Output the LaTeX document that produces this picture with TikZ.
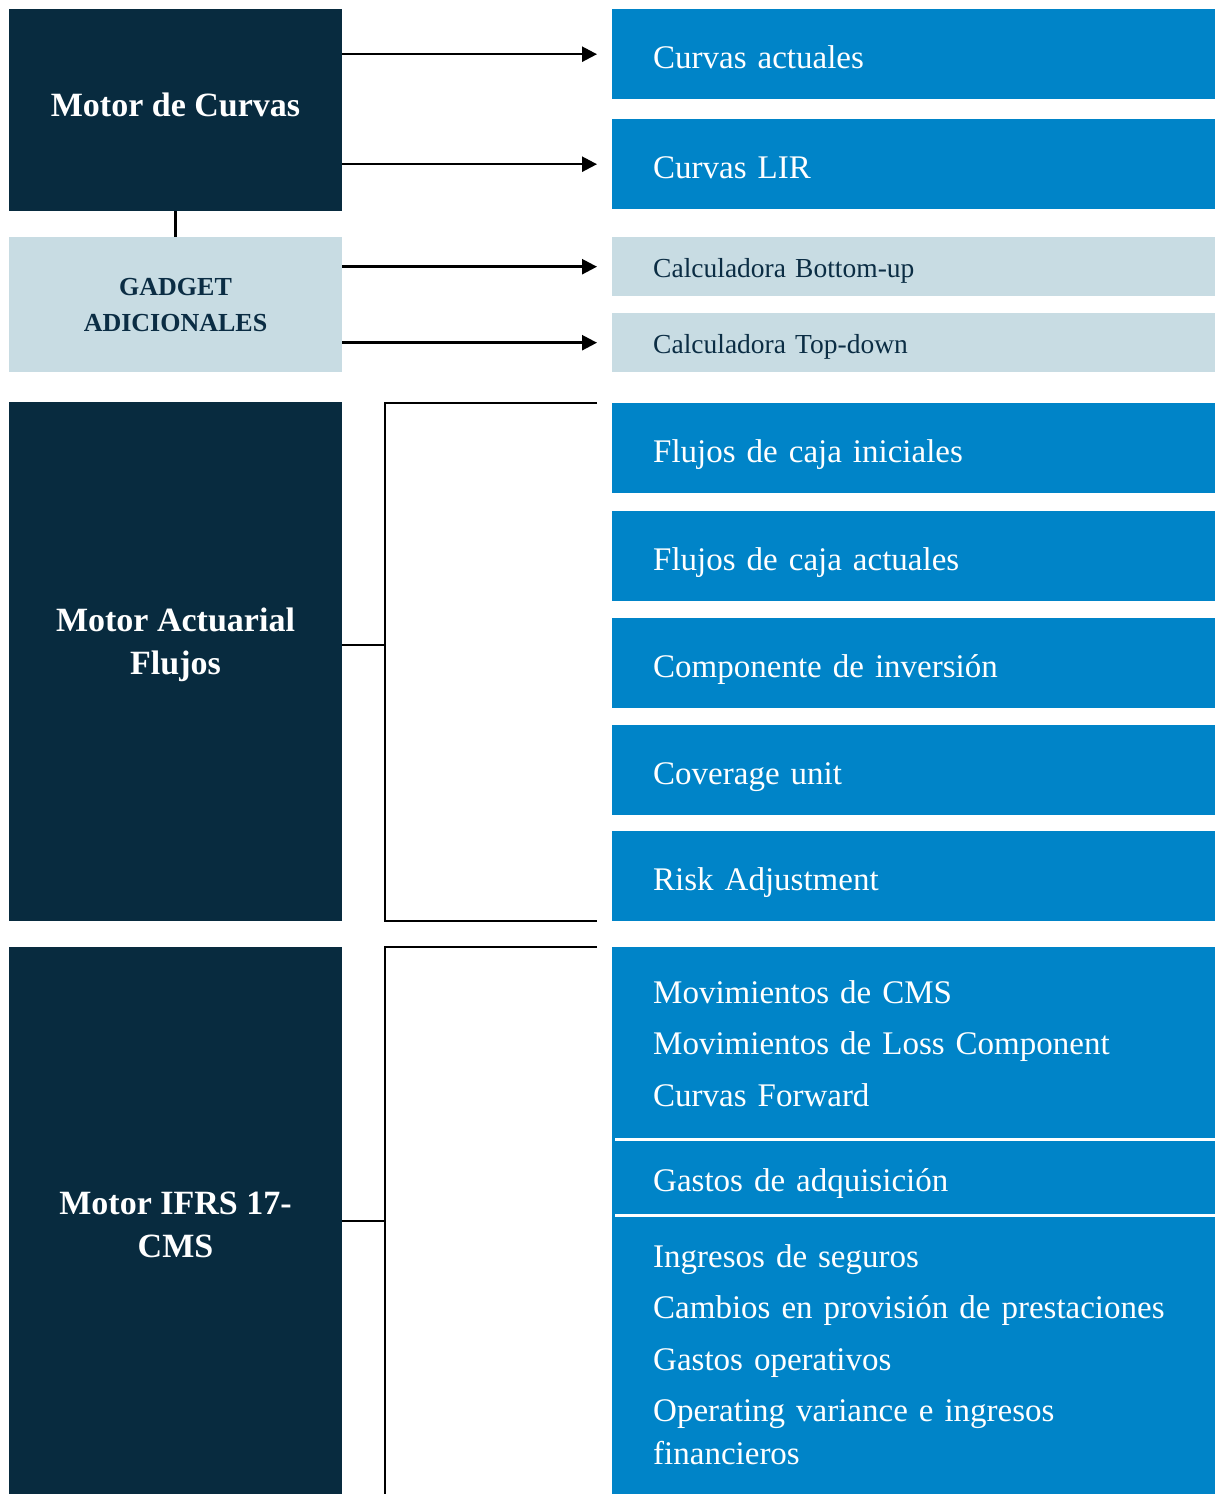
\documentclass[tikz,border=0pt]{standalone}
\usepackage{fontspec}
\setmainfont{Liberation Serif}
\usetikzlibrary{arrows.meta}
\definecolor{navy}{HTML}{082B3F}
\definecolor{azul}{HTML}{0084C8}
\definecolor{gris}{HTML}{C8DCE3}
\definecolor{tinta}{HTML}{0B2D44}
\tikzset{
motor/.style={fill=navy, anchor=north west, minimum width=333pt, inner sep=0pt},
gadget/.style={fill=gris, anchor=north west, minimum width=333pt, inner sep=0pt},
motortext/.style={text=white, font=\bfseries\fontsize{34}{43}\selectfont, align=center, inner sep=0pt},
gadtext/.style={text=tinta, font=\bfseries\fontsize{26}{36}\selectfont, align=center, inner sep=0pt},
salida/.style={fill=azul, anchor=north west, minimum height=90pt, text width=521pt, inner xsep=41pt, inner ysep=0pt, align=left, text=white, font=\fontsize{33}{51.5}\selectfont},
linea/.style={salida, text height=35pt, text depth=7pt},
calc/.style={fill=gris, anchor=north west, minimum height=59pt, text width=521pt, inner xsep=41pt, inner ysep=0pt, align=left, text=tinta, font=\fontsize{27.5}{33}\selectfont, text height=28pt, text depth=7pt},
flecha/.style={line width=2.5pt, -{Triangle[length=15pt,width=15pt]}, shorten >=15pt},
brk/.style={line width=2pt},
sep/.style={white, line width=2.5pt}
}
\begin{document}
\begin{tikzpicture}[x=1pt,y=-1pt]
\useasboundingbox (0,0) rectangle (1215,1494);
\node[motor, minimum height=202pt] (mc) at (9,9) {};
\node[gadget, minimum height=135pt] (gad) at (9,237) {};
\node[motor, minimum height=519pt] (ma) at (9,402) {};
\node[motor, minimum height=547pt] (mi) at (9,947) {};
\node[motortext] (mct) at (175.5,105) {Motor de Curvas};
\node[gadtext] (gat) at (175.5,305) {GADGET\\ADICIONALES};
\node[motortext] (mat) at (175.5,645) {Motor Actuarial\\Flujos};
\node[motortext] (mit) at (175.5,1225) {Motor IFRS 17-\\CMS};

\node[linea] (ca) at (612,9) {Curvas actuales};
\node[linea] (lir) at (612,119) {Curvas LIR};
\node[calc] (bu) at (612,237) {Calculadora Bottom-up};
\node[calc] (td) at (612,313) {Calculadora Top-down};
\node[linea] (fi) at (612,403) {Flujos de caja iniciales};
\node[linea] (fa) at (612,511) {Flujos de caja actuales};
\node[linea] (ci) at (612,618) {Componente de inversión};
\node[linea] (cu) at (612,725) {Coverage unit};
\node[linea] (ra) at (612,831) {Risk Adjustment};
\node[salida, minimum height=192pt] (cms) at (612,947) {Movimientos de CMS\\Movimientos de Loss Component\\Curvas Forward};
\node[linea, minimum height=76pt] (gas) at (612,1139) {Gastos de adquisición};
\node[salida, minimum height=279pt] (ing) at (612,1215) {Ingresos de seguros\\Cambios en provisión de prestaciones\\Gastos operativos\\Operating variance e ingresos\\[-8.5pt]financieros};
\draw[sep] ([xshift=3pt]cms.south west) -- (cms.south east);
\draw[sep] ([xshift=3pt]gas.south west) -- (gas.south east);

\draw[line width=3pt] (mc.south) -- (gad.north);
\draw[flecha] (mc.east |- ca.west) -- (ca.west);
\draw[flecha] (mc.east |- lir.west) -- (lir.west);
\draw[flecha] (gad.east |- bu.west) -- (bu.west);
\draw[flecha] (gad.east |- td.west) -- (td.west);

\coordinate (ejeA) at ([xshift=43pt]ma.east);
\coordinate (ejeB) at ([xshift=43pt]mi.east);
\draw[brk] ([xshift=-15pt]fi.north west) -- (ejeA |- fi.north) -- (ejeA |- ra.south) -- ([xshift=-15pt]ra.south west);
\draw[brk] (ma.east |- mat) -- (ejeA |- mat);
\draw[brk] ([xshift=-15pt]cms.north west) -- (ejeB |- cms.north) -- (ejeB |- mi.south);
\draw[brk] (mi.east) -- (ejeB);
\end{tikzpicture}
\end{document}
